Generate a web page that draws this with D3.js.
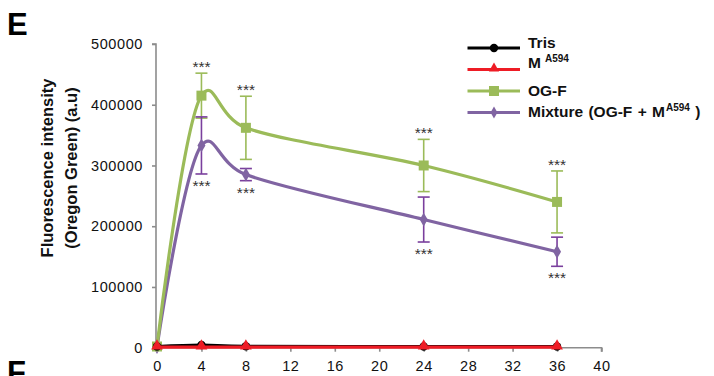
<!DOCTYPE html>
<html>
<head>
<meta charset="utf-8">
<script src="https://cdn.jsdelivr.net/npm/d3@7"></script>
<style>
  html, body { margin: 0; padding: 0; background: #fff; }
  svg { display: block; font-family: "Liberation Sans", Arial, sans-serif; }
</style>
</head>
<body>
<svg id="chart" width="714" height="376"></svg>
<script>
// ---- data ----
const times = [0, 4, 8, 24, 36];
const tris = [2000, 4500, 2500, 2000, 2000];
const mA594 = [1000, 1000, 1000, 1000, 1000];
const ogf = [2000, 415000, 362000, 300000, 240000];
const ogfErr = [0, 37000, 52000, 43000, 51000];
const mixture = [1000, 333000, 285000, 211000, 158000];
const mixtureErr = [0, 47000, 10000, 37000, 24000];
const sigLabels = ["", "***", "***", "***", "***"];
const xTicks = [0, 4, 8, 12, 16, 20, 24, 28, 32, 36, 40];
const yTicks = [0, 100000, 200000, 300000, 400000, 500000];
const legendNames = ["Tris", "M", "OG-F", "Mixture (OG-F + M"];
const legendSups = ["", "A594", "", "A594"];
const legendTails = ["", "", "", " )"];

const svg = d3.select("#chart");
const axisColor = "#8c8c8c";
const colors = { tris: "#000000", m: "#ee1c25", ogf: "#9bbb59", mix: "#8064a2" };
const errColors = { ogf: "#9bbb59", mix: "#7a3f9d" };

const x = d3.scaleLinear().domain([0, 40]).range([157, 601.5]);
const y = d3.scaleLinear().domain([0, 500000]).range([347.7, 44]);

// panel letters
svg.append("text").attr("x", 7).attr("y", 35).attr("font-size", 31).attr("font-weight", "bold").text("E");
svg.append("text").attr("x", 7).attr("y", 383).attr("font-size", 31).attr("font-weight", "bold").text("F");

// axes
const yAxis = svg.append("g").attr("transform", `translate(${x(0) - 1},0)`)
  .call(d3.axisLeft(y).tickValues(yTicks).tickSize(4).tickPadding(9).tickFormat(d3.format("d")));
const xAxis = svg.append("g").attr("transform", `translate(0,${y(0)})`)
  .call(d3.axisBottom(x).tickValues(xTicks).tickSize(4).tickPadding(9).tickFormat(d3.format("d")));
[yAxis, xAxis].forEach(g => {
  g.select(".domain").attr("stroke", axisColor).attr("stroke-width", 1.6);
  g.selectAll(".tick line").attr("stroke", axisColor).attr("stroke-width", 1.6);
  g.selectAll(".tick text").attr("font-size", 14.5).attr("fill", "#111").attr("letter-spacing", 0.6)
    .attr("font-family", "'Liberation Sans', Arial, sans-serif");
});
yAxis.select(".domain").attr("d", `M-4,${y(500000)}H0V${y(0)}`);
xAxis.select(".domain").attr("d", `M${x(0)},0H${x(40)}V4`);

// y axis title
const title = svg.append("text").attr("transform", "translate(0,168) rotate(-90)")
  .attr("text-anchor", "middle").attr("font-weight", "bold").attr("font-size", 16.5).attr("fill", "#111");
title.append("tspan").attr("x", 0).attr("y", 53).text("Fluorescence intensity");
title.append("tspan").attr("x", 0).attr("y", 77).text("(Oregon Green) (a.u)");

const curve = d3.curveCatmullRom.alpha(0.2);
function lineFor(vals) {
  return d3.line().x((d, i) => x(times[i])).y(d => y(d)).curve(curve)(vals);
}

// error bars
function errorBars(vals, errs, color) {
  const g = svg.append("g").attr("stroke", color).attr("stroke-width", 1.6).attr("fill", "none");
  vals.forEach((v, i) => {
    if (!errs[i]) return;
    const cx = x(times[i]), top = y(v + errs[i]), bot = y(v - errs[i]);
    g.append("line").attr("x1", cx).attr("x2", cx).attr("y1", top).attr("y2", bot);
    g.append("line").attr("x1", cx - 6).attr("x2", cx + 6).attr("y1", top).attr("y2", top);
    g.append("line").attr("x1", cx - 6).attr("x2", cx + 6).attr("y1", bot).attr("y2", bot);
  });
}

// series lines
svg.append("path").attr("d", lineFor(mixture)).attr("fill", "none").attr("stroke", colors.mix).attr("stroke-width", 3.2);
svg.append("path").attr("d", lineFor(ogf)).attr("fill", "none").attr("stroke", colors.ogf).attr("stroke-width", 3.2);
errorBars(ogf, ogfErr, errColors.ogf);
errorBars(mixture, mixtureErr, errColors.mix);

// markers
svg.append("g").selectAll("path").data(mixture).join("path")
  .attr("transform", (d, i) => `translate(${x(times[i])},${y(d)})`)
  .attr("d", d3.symbol(d3.symbolDiamond, 55)).attr("fill", colors.mix);
svg.append("g").selectAll("rect").data(ogf).join("rect")
  .attr("x", (d, i) => x(times[i]) - 5).attr("y", d => y(d) - 5)
  .attr("width", 10).attr("height", 10).attr("fill", colors.ogf);

svg.append("path").attr("d", lineFor(tris)).attr("fill", "none").attr("stroke", colors.tris).attr("stroke-width", 3);
svg.append("g").selectAll("circle").data(tris).join("circle")
  .attr("cx", (d, i) => x(times[i])).attr("cy", d => y(d)).attr("r", 4.2).attr("fill", colors.tris);
svg.append("path").attr("d", lineFor(mA594)).attr("fill", "none").attr("stroke", colors.m).attr("stroke-width", 3.4);
svg.append("g").selectAll("path").data(mA594).join("path")
  .attr("transform", (d, i) => `translate(${x(times[i])},${y(d) - 1})`)
  .attr("d", d3.symbol(d3.symbolTriangle, 60)).attr("fill", colors.m);

// significance stars
const stars = svg.append("g").attr("font-size", 15.5).attr("fill", "#333").attr("text-anchor", "middle");
ogf.forEach((v, i) => {
  if (!sigLabels[i]) return;
  stars.append("text").attr("x", x(times[i])).attr("y", y(v + ogfErr[i]) - 1).text(sigLabels[i]);
});
mixture.forEach((v, i) => {
  if (!sigLabels[i]) return;
  stars.append("text").attr("x", x(times[i])).attr("y", y(v - mixtureErr[i]) + 17).text(sigLabels[i]);
});

// legend
const legendColors = [colors.tris, colors.m, colors.ogf, colors.mix];
const leg = svg.append("g");
legendNames.forEach((name, i) => {
  const ly = 48 + i * 21.5;
  leg.append("line").attr("x1", 467.5).attr("x2", 520).attr("y1", ly).attr("y2", ly)
    .attr("stroke", legendColors[i]).attr("stroke-width", 3.2);
  const mx = 494;
  if (i === 0) leg.append("circle").attr("cx", mx).attr("cy", ly).attr("r", 4.2).attr("fill", legendColors[i]);
  if (i === 1) leg.append("path").attr("transform", `translate(${mx},${ly - 1})`).attr("d", d3.symbol(d3.symbolTriangle, 45)).attr("fill", legendColors[i]);
  if (i === 2) leg.append("rect").attr("x", mx - 5).attr("y", ly - 5).attr("width", 10).attr("height", 10).attr("fill", legendColors[i]);
  if (i === 3) leg.append("path").attr("transform", `translate(${mx},${ly})`).attr("d", d3.symbol(d3.symbolDiamond, 40)).attr("fill", legendColors[i]);
  const t = leg.append("text").attr("x", 528).attr("y", ly + (i === 0 ? 0 : (i === 1 ? -2 : 4.5)))
    .attr("font-size", 15.5).attr("font-weight", "bold").attr("fill", "#111").attr("word-spacing", 1);
  t.append("tspan").text(name);
  if (legendSups[i]) {
    t.append("tspan").attr("font-size", 10).attr("dx", i === 1 ? 4 : 1).attr("dy", -6).text(legendSups[i]);
    if (legendTails[i]) t.append("tspan").attr("font-size", 15.5).attr("dy", 6).text(legendTails[i]);
  }
});
</script>
</body>
</html>
